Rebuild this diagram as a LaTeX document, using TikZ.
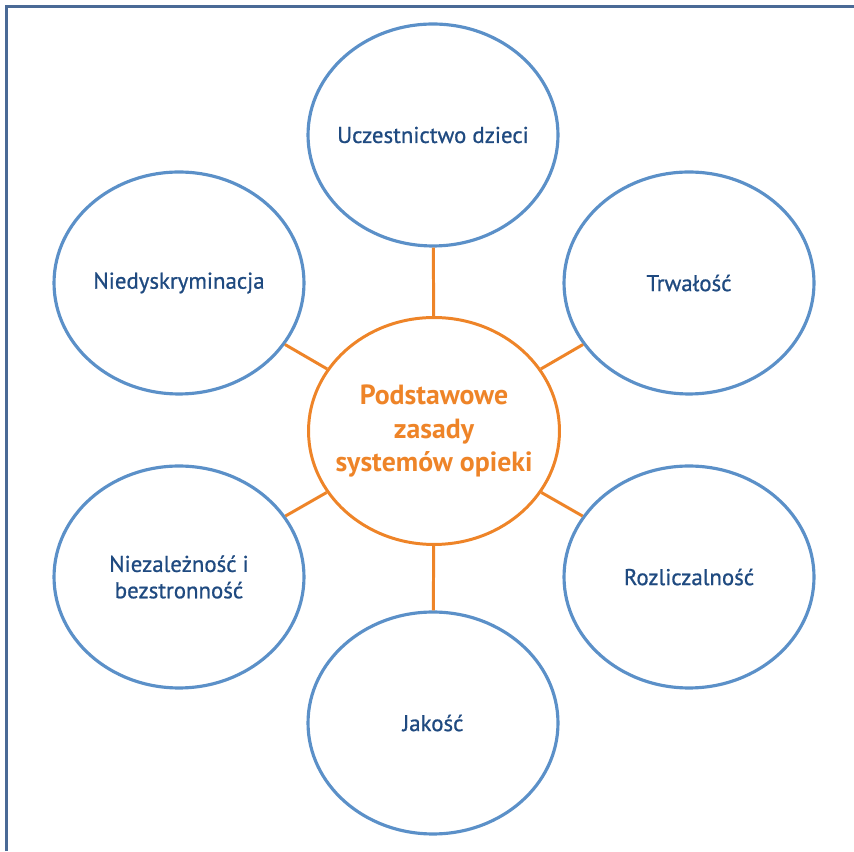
\documentclass[tikz,border=0pt]{standalone}
\usepackage{fontspec}
\setmainfont{PT Sans}
\newfontfamily\ringfont{PT Sans}[FakeBold=0.8]
\usetikzlibrary{shapes.geometric, positioning, calc}

\definecolor{frameblue}{HTML}{4A6A96}
\definecolor{ringblue}{HTML}{5B90C8}
\definecolor{textblue}{HTML}{1F4A80}
\definecolor{huborange}{HTML}{EE8428}

\begin{document}
\begin{tikzpicture}[
    x=0.02cm, y=0.02cm,
    every node/.style={align=center},
    hub/.style={ellipse, minimum width=5.02cm, minimum height=4.54cm, inner sep=0pt, draw=huborange, line width=1.7pt},
    hubtext/.style={text=huborange, align=center, font=\bfseries\fontsize{15.8}{19}\selectfont},
    principle/.style={ellipse, minimum width=5cm, minimum height=4.44cm, inner sep=0pt, draw=ringblue, line width=1.8pt},
    ringtext/.style={text=textblue, align=center, font=\ringfont\fontsize{13}{15}\selectfont},
    spoke/.style={draw=huborange, line width=1.7pt}
]

% Canvas and frame
\useasboundingbox (0,0) rectangle (854,851);
\draw[frameblue, line width=1.2pt] (6.5,0) -- (6.5,844.5) -- (854,844.5);

% Hub
\node (hub) [hub, label={[hubtext]center:Podstawowe\\zasady\\systemów opieki}] at (434,420) {};

% Principles
\node (children) [principle, label={[ringtext]center:Uczestnictwo dzieci}] at ($(hub)+(-1,296)$) {};
\node (nondiscr) [principle, label={[ringtext]center:Niedyskryminacja}] at ($(hub)+(-255,148)$) {};
\node (durable) [principle, label={[ringtext]center:Trwałość}] at ($(hub)+(255,148)$) {};
\node (independ) [principle, label={[ringtext]center:Niezależność i\\bezstronność}] at ($(hub)+(-255,-146)$) {};
\node (account) [principle, label={[ringtext]center:Rozliczalność}] at ($(hub)+(255,-146)$) {};
\node (quality) [principle, label={[ringtext]center:Jakość}] at ($(hub)+(-1,-292)$) {};

% Spokes
\draw [spoke] (hub) -- (children);
\draw [spoke] (hub) -- (nondiscr);
\draw [spoke] (hub) -- (durable);
\draw [spoke] (hub) -- (independ);
\draw [spoke] (hub) -- (account);
\draw [spoke] (hub) -- (quality);

\end{tikzpicture}
\end{document}
